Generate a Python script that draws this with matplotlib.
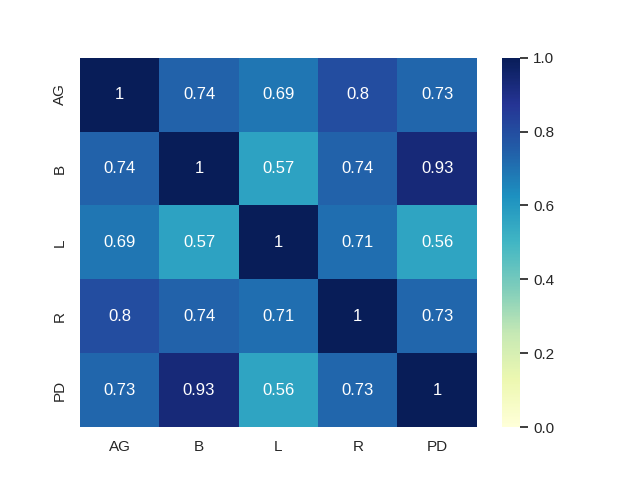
import matplotlib
matplotlib.use("Agg")
import matplotlib.pyplot as plt
import seaborn as sns
import pandas as pd

labels = ["AG", "B", "L", "R", "PD"]
corr_values = [
    [1.00, 0.74, 0.69, 0.80, 0.73],
    [0.74, 1.00, 0.57, 0.74, 0.93],
    [0.69, 0.57, 1.00, 0.71, 0.56],
    [0.80, 0.74, 0.71, 1.00, 0.73],
    [0.73, 0.93, 0.56, 0.73, 1.00],
]

sns.set_theme(style="white")
plt.rcParams['font.family'] = ['Liberation Sans', 'DejaVu Sans']
corr = pd.DataFrame(corr_values, index=labels, columns=labels)

fig = plt.figure(figsize=(6.4, 4.8), dpi=100)
ax = sns.heatmap(corr, annot=True, cmap="YlGnBu", vmin=0, vmax=1)

# colorbar keeps tick marks in the reference
cbar = ax.collections[0].colorbar
cbar.ax.tick_params(right=True, length=6, width=1.25, color="#262626")
plt.savefig("out.png")
